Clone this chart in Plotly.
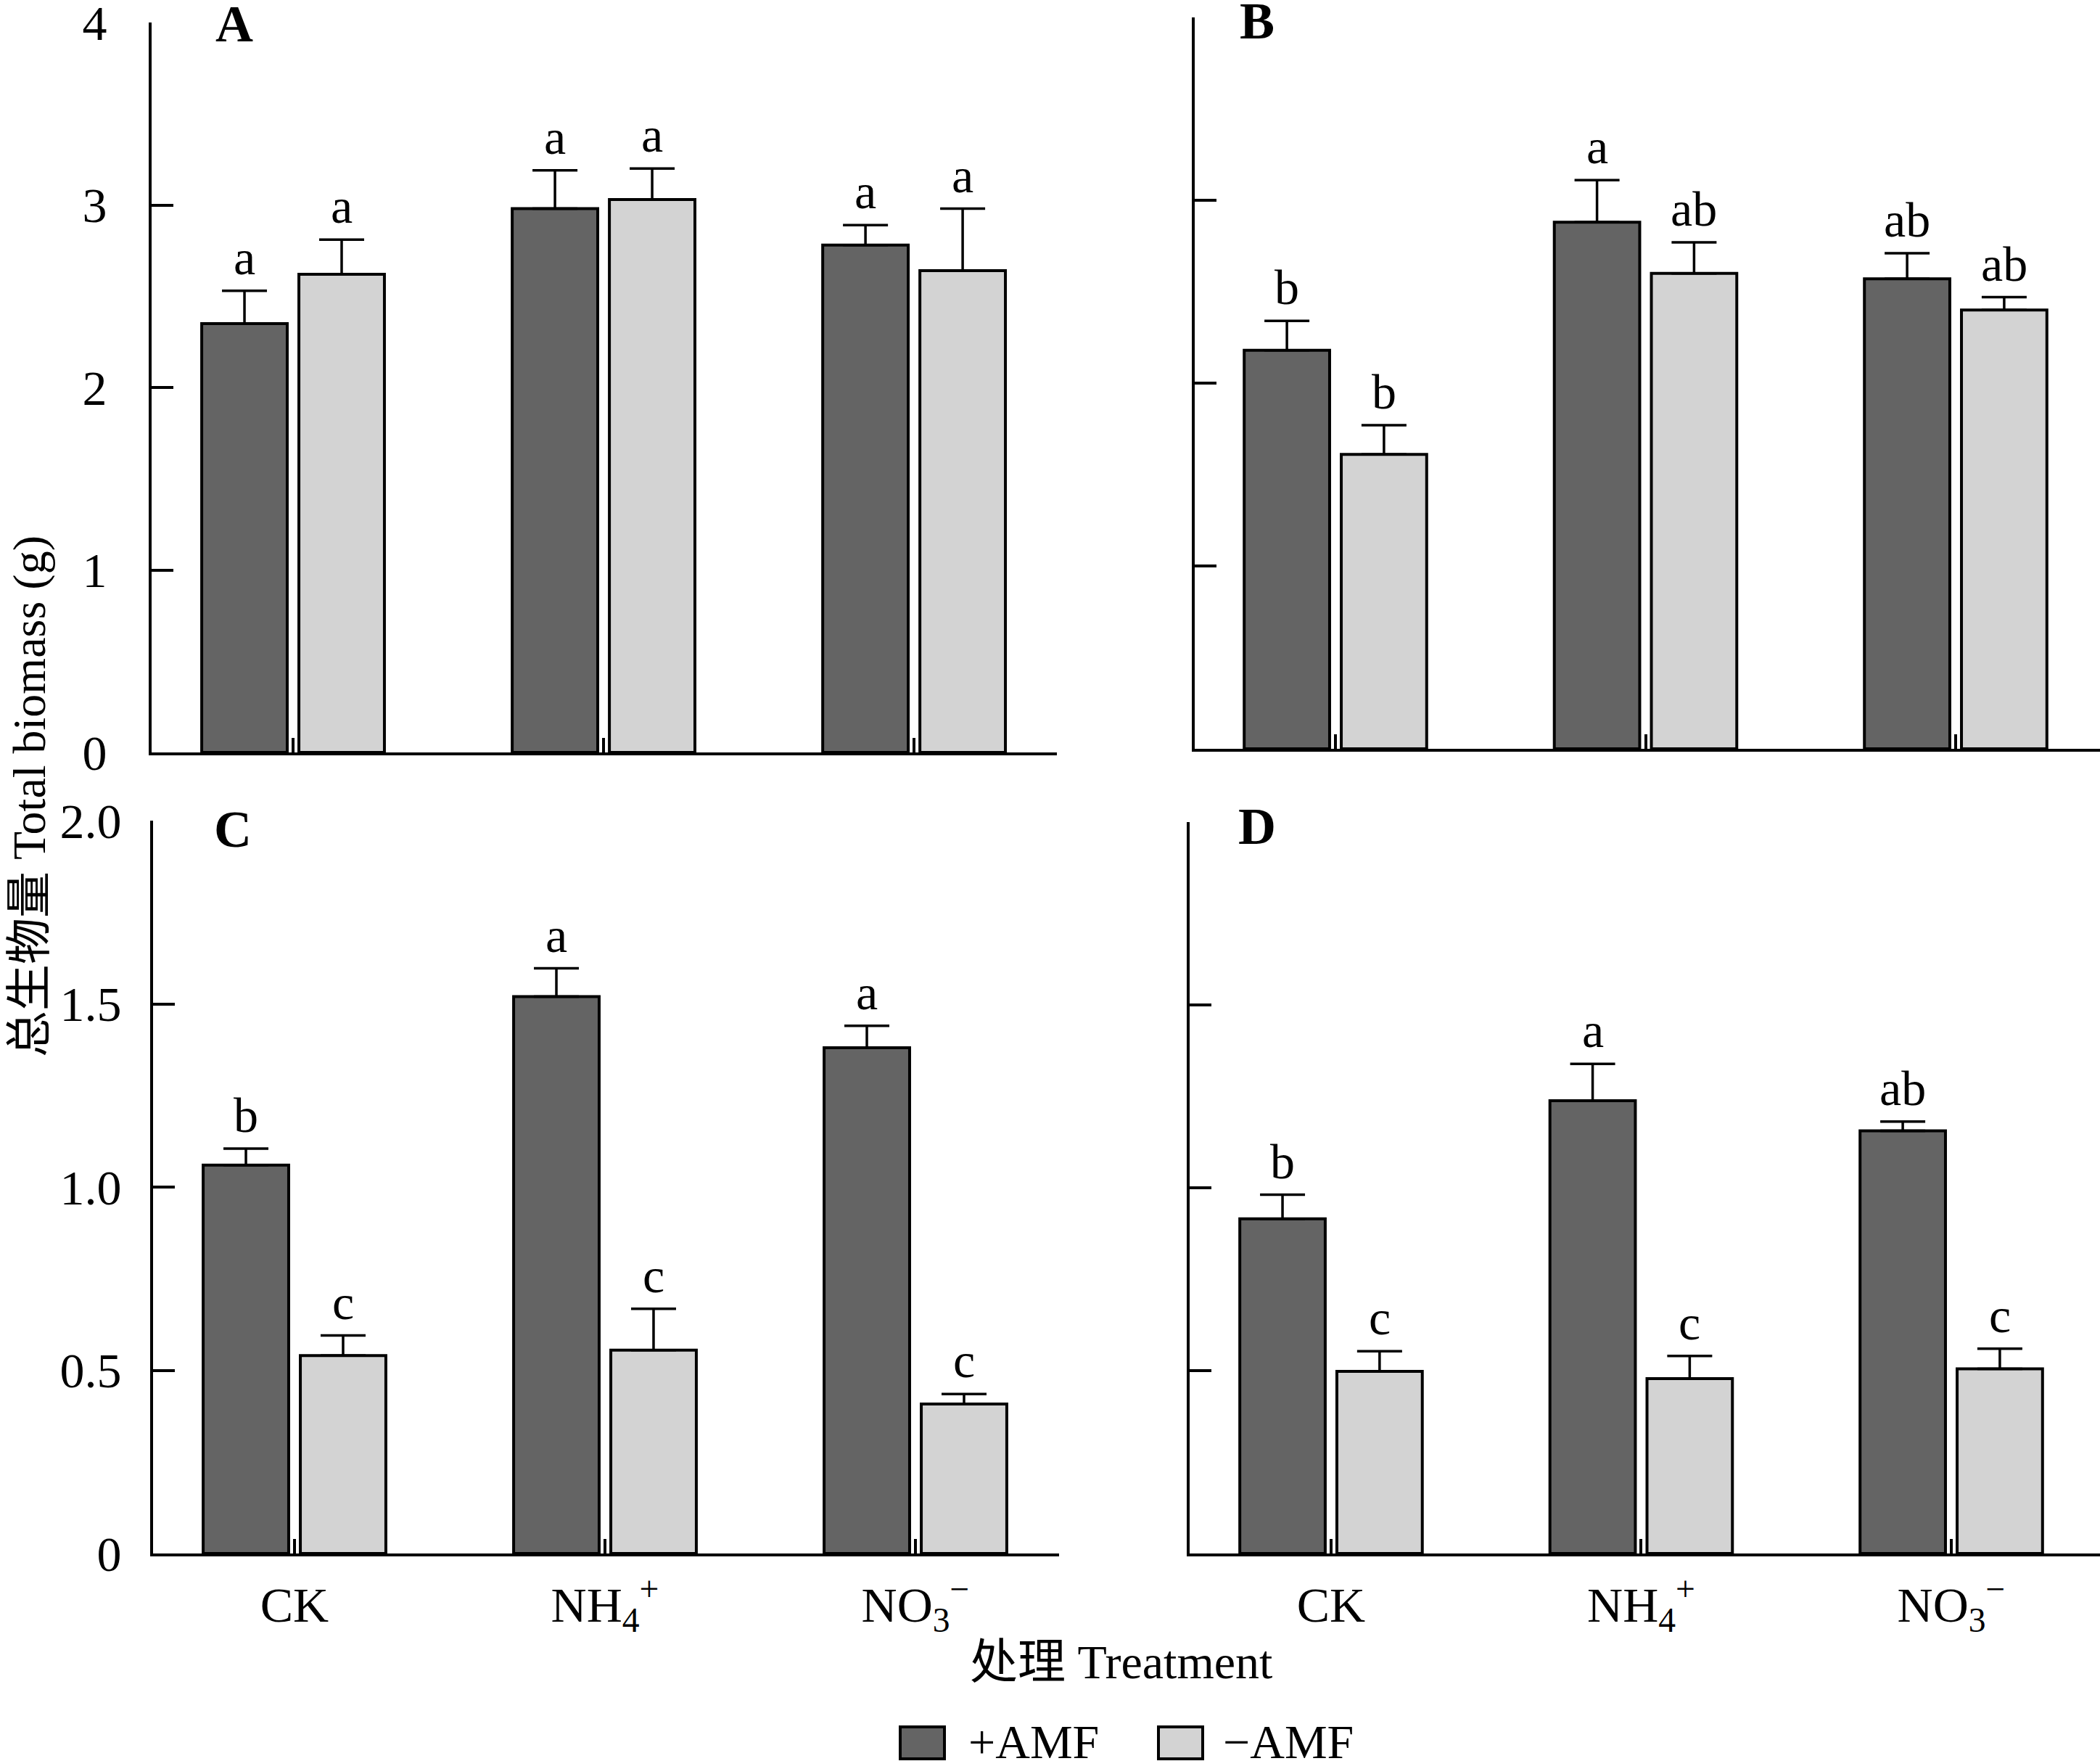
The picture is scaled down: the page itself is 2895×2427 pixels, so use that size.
import plotly.graph_objects as go

W, H = 2895, 2427

categories = ["CK", "NH<sub>4</sub><sup>+</sup>", "NO<sub>3</sub><sup>−</sup>"]
series_names = ["+AMF", "−AMF"]

# Panel A
A_plus = [2.35, 2.98, 2.78]
A_plus_err = [0.18, 0.21, 0.11]
A_minus = [2.62, 3.03, 2.64]
A_minus_err = [0.19, 0.17, 0.34]
A_letters_plus = ["a", "a", "a"]
A_letters_minus = ["a", "a", "a"]

# Panel B
B_plus = [2.18, 2.88, 2.57]
B_plus_err = [0.16, 0.23, 0.14]
B_minus = [1.61, 2.60, 2.40]
B_minus_err = [0.16, 0.17, 0.07]
B_letters_plus = ["b", "a", "ab"]
B_letters_minus = ["b", "ab", "ab"]

# Panel C
C_plus = [1.06, 1.52, 1.38]
C_plus_err = [0.045, 0.077, 0.06]
C_minus = [0.54, 0.555, 0.408]
C_minus_err = [0.055, 0.113, 0.027]
C_letters_plus = ["b", "a", "a"]
C_letters_minus = ["c", "c", "c"]

# Panel D
D_plus = [0.915, 1.238, 1.156]
D_plus_err = [0.066, 0.101, 0.025]
D_minus = [0.498, 0.478, 0.505]
D_minus_err = [0.055, 0.062, 0.055]
D_letters_plus = ["b", "a", "ab"]
D_letters_minus = ["c", "c", "c"]

top_ticks = [0, 1, 2, 3, 4]
top_ticktext = ["0", "1", "2", "3", "4"]
bot_ticks = [0, 0.5, 1.0, 1.5, 2.0]
bot_ticktext = ["0", "0.5", "1.0", "1.5", "2.0"]

DARK = "#646464"
LIGHT = "#d3d3d3"
FONT = "Liberation Serif, 'Noto Sans CJK SC', serif"
TICK_SIZE = 68
BARGAP = 0.374
BARGROUPGAP = 0.12

# panel geometry in pixels: x_left, x_right, y_top, y_bottom, x range, y range
panels = [
    dict(name="A", plus=A_plus, pe=A_plus_err, minus=A_minus, me=A_minus_err,
         lp=A_letters_plus, lm=A_letters_minus,
         px=(209, 1457), py=(31, 1037), xr=(-0.4556, 2.460), yr=(0, 4),
         tv=top_ticks, tt=top_ticktext, ylabels=True, xlabels=False,
         lab=(295, 33), standoff=44),
    dict(name="B", plus=B_plus, pe=B_plus_err, minus=B_minus, me=B_minus_err,
         lp=B_letters_plus, lm=B_letters_minus,
         px=(1647, 2895), py=(24, 1032), xr=(-0.4538, 2.4655), yr=(0, 4),
         tv=top_ticks, tt=top_ticktext, ylabels=False, xlabels=False,
         lab=(1707, 29), standoff=30),
    dict(name="C", plus=C_plus, pe=C_plus_err, minus=C_minus, me=C_minus_err,
         lp=C_letters_plus, lm=C_letters_minus,
         px=(211, 1460), py=(1131, 2141), xr=(-0.4556, 2.4626), yr=(0, 2),
         tv=bot_ticks, tt=bot_ticktext, ylabels=True, xlabels=True,
         lab=(293, 1143), standoff=26),
    dict(name="D", plus=D_plus, pe=D_plus_err, minus=D_minus, me=D_minus_err,
         lp=D_letters_plus, lm=D_letters_minus,
         px=(1640, 2895), py=(1133, 2141), xr=(-0.456, 2.4795), yr=(0, 2),
         tv=bot_ticks, tt=bot_ticktext, ylabels=False, xlabels=True,
         lab=(1705, 1139), standoff=30),
]

fig = go.Figure()
annotations = []
layout_axes = {}

for i, p in enumerate(panels):
    n = "" if i == 0 else str(i + 1)
    xa, ya = "x" + n, "y" + n
    for vals, errs, color, sname in [(p["plus"], p["pe"], DARK, series_names[0]),
                                     (p["minus"], p["me"], LIGHT, series_names[1])]:
        fig.add_trace(go.Bar(
            x=categories, y=vals, name=sname, xaxis=xa, yaxis=ya,
            marker=dict(color=color, line=dict(color="black", width=4)),
            error_y=dict(type="data", array=errs, arrayminus=[0] * len(errs),
                         symmetric=False, color="black", thickness=3.5, width=31),
            showlegend=False,
        ))
    x0, x1 = p["px"]
    y0, y1 = p["py"]
    dom_x = [x0 / W, x1 / W]
    dom_y = [1 - y1 / H, 1 - y0 / H]
    layout_axes["xaxis" + n] = dict(
        domain=dom_x, anchor=ya, type="category", range=list(p["xr"]),
        automargin=False, ticklabeloverflow="allow",
        showline=True, linecolor="black", linewidth=4, showgrid=False, zeroline=False,
        ticks="inside", ticklen=20, tickwidth=4, tickcolor="black",
        showticklabels=p["xlabels"], tickfont=dict(family=FONT, size=TICK_SIZE, color="black"),
        ticklabelstandoff=8,
    )
    layout_axes["yaxis" + n] = dict(
        domain=dom_y, anchor=xa, range=list(p["yr"]),
        automargin=False, ticklabeloverflow="allow",
        showline=True, linecolor="black", linewidth=4, showgrid=False, zeroline=False,
        ticks="inside", ticklen=30, tickwidth=4, tickcolor="black",
        tickvals=p["tv"], ticktext=p["tt"], showticklabels=p["ylabels"],
        tickfont=dict(family=FONT, size=TICK_SIZE, color="black"),
        ticklabelstandoff=p["standoff"],
    )
    # significance letters above error bars
    px_per_unit = (x1 - x0) / (p["xr"][1] - p["xr"][0])
    off = (1 - BARGAP) / 4 * px_per_unit
    for j, c in enumerate(categories):
        for vals, errs, lets, sgn in [(p["plus"], p["pe"], p["lp"], -1),
                                      (p["minus"], p["me"], p["lm"], 1)]:
            annotations.append(dict(
                x=c, y=vals[j] + errs[j], xref=xa, yref=ya, text=lets[j],
                showarrow=False, xanchor="center", yanchor="bottom",
                xshift=sgn * off, yshift=6,
                font=dict(family=FONT, size=TICK_SIZE, color="black"),
            ))
    # panel label
    lx, ly = p["lab"]
    annotations.append(dict(
        x=lx / W, y=1 - ly / H, xref="paper", yref="paper", text="<b>" + p["name"] + "</b>",
        showarrow=False, xanchor="left", yanchor="middle",
        font=dict(family=FONT, size=72, color="black"),
    ))

# axis titles
annotations.append(dict(
    x=40 / W, y=1 - 1098 / H, xref="paper", yref="paper",
    text="总生物量 Total biomass (g)", textangle=-90, showarrow=False,
    xanchor="center", yanchor="middle", font=dict(family=FONT, size=64, color="black"),
))
annotations.append(dict(
    x=1545 / W, y=1 - 2290 / H, xref="paper", yref="paper",
    text="处理 Treatment", showarrow=False,
    xanchor="center", yanchor="middle", font=dict(family=FONT, size=66, color="black"),
))

# legend (drawn manually so the swatches match the reference size)
shapes = []
legend_items = [(DARK, series_names[0], 1241, 1333), (LIGHT, series_names[1], 1597, 1684)]
for color, label, bx, tx in legend_items:
    shapes.append(dict(type="rect", xref="paper", yref="paper",
                       x0=bx / W, x1=(bx + 61) / W, y0=1 - 2424 / H, y1=1 - 2380 / H,
                       fillcolor=color, line=dict(color="black", width=4)))
    annotations.append(dict(
        x=tx / W, y=1 - 2400 / H, xref="paper", yref="paper", text=label,
        showarrow=False, xanchor="left", yanchor="middle",
        font=dict(family=FONT, size=66, color="black"),
    ))

fig.update_layout(
    template="none",
    width=W, height=H, autosize=False,
    margin=dict(l=0, r=0, t=0, b=0, pad=0),
    paper_bgcolor="white", plot_bgcolor="white",
    barmode="group", bargap=BARGAP, bargroupgap=BARGROUPGAP,
    annotations=annotations, shapes=shapes,
    font=dict(family=FONT, color="black"),
    showlegend=False,
    **layout_axes,
)

fig.write_html("out.html", config={"displayModeBar": False},
               post_script="document.body.style.margin='0';")
